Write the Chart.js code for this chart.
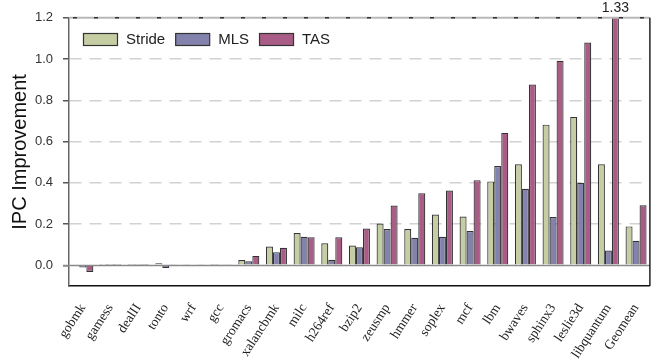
<!DOCTYPE html>
<html>
<head>
<meta charset="utf-8">
<script src="https://cdn.jsdelivr.net/npm/chart.js@4"></script>
<style>
  html, body { margin: 0; padding: 0; background: #fff; }
  #c { display: block; }
</style>
</head>
<body>
<canvas id="c" width="665" height="360"></canvas>
<script>
// Benchmarks along the x axis
const categories = ['gobmk', 'gamess', 'dealII', 'tonto', 'wrf', 'gcc', 'gromacs',
  'xalancbmk', 'milc', 'h264ref', 'bzip2', 'zeusmp', 'hmmer', 'soplex', 'mcf',
  'lbm', 'bwaves', 'sphinx3', 'leslie3d', 'libquantum', 'Geomean'];

// IPC improvement per prefetcher
const strideValues = [-0.003, 0.001, 0.002, 0.010, 0.005, 0.002, 0.026, 0.091, 0.157, 0.107,
  0.096, 0.203, 0.176, 0.246, 0.237, 0.407, 0.490, 0.682, 0.719, 0.490, 0.189];
const mlsValues = [-0.010, 0.001, 0.001, -0.013, 0.004, 0.003, 0.020, 0.064, 0.139, 0.027,
  0.088, 0.176, 0.134, 0.139, 0.166, 0.482, 0.371, 0.234, 0.400, 0.072, 0.119];
const tasValues = [-0.032, 0.001, 0.002, 0.006, 0.005, 0.005, 0.046, 0.085, 0.136, 0.136,
  0.179, 0.290, 0.349, 0.363, 0.413, 0.642, 0.877, 0.992, 1.080, 1.330, 0.291];

const yTickValues = [0.0, 0.2, 0.4, 0.6, 0.8, 1.0, 1.2];
const Y_MIN = -0.1, Y_MAX = 1.2;

const seriesNames = ['Stride', 'MLS', 'TAS'];
const seriesColors = ['#c5cda2', '#8282ad', '#a95d86'];
const barEdge = '#333333';

const SANS = '"Liberation Sans", Arial, sans-serif';
const SERIF = '"Liberation Serif", "Times New Roman", serif';

// Frame lines: zero line, top line with short dark dashes, right edge
const framePlugin = {
  id: 'frame',
  beforeDatasetsDraw(chart) {
    const { ctx, chartArea: a, scales: { y } } = chart;
    ctx.save();
    const y0 = Math.round(y.getPixelForValue(0)) + 0.5;
    ctx.strokeStyle = '#8a8a8a';
    ctx.lineWidth = 1.5;
    ctx.beginPath();
    ctx.moveTo(a.left - 6, y0);
    ctx.lineTo(a.right, y0);
    ctx.stroke();
    ctx.restore();
  },
  afterDraw(chart) {
    const { ctx, chartArea: a } = chart;
    ctx.save();
    ctx.strokeStyle = '#b8b8b8';
    ctx.lineWidth = 2;
    ctx.beginPath();
    ctx.moveTo(a.left, a.top);
    ctx.lineTo(a.right, a.top);
    ctx.stroke();
    ctx.strokeStyle = '#333';
    ctx.lineWidth = 1.5;
    ctx.setLineDash([4, 17]);
    ctx.beginPath();
    ctx.moveTo(a.left + 4, a.top);
    ctx.lineTo(a.right, a.top);
    ctx.stroke();
    ctx.setLineDash([]);
    ctx.strokeStyle = '#222';
    ctx.lineWidth = 1.5;
    ctx.beginPath();
    ctx.moveTo(a.right, a.top);
    ctx.lineTo(a.right, a.bottom);
    ctx.stroke();
    ctx.restore();
  }
};

// Legend drawn inside the plot area, top-left
const insideLegend = {
  id: 'insideLegend',
  afterDraw(chart) {
    const { ctx, chartArea: a } = chart;
    ctx.save();
    ctx.font = '15px ' + SANS;
    ctx.textBaseline = 'middle';
    ctx.textAlign = 'left';
    let x = a.left + 14;
    const yMid = 39;
    chart.data.datasets.forEach(ds => {
      ctx.fillStyle = ds.backgroundColor;
      ctx.fillRect(x, yMid - 6, 34, 12);
      ctx.strokeStyle = barEdge;
      ctx.lineWidth = 1.2;
      ctx.strokeRect(x + 0.5, yMid - 5.5, 34, 12);
      ctx.fillStyle = '#222';
      ctx.fillText(ds.label, x + 43, yMid + 1);
      x += 43 + ctx.measureText(ds.label).width + 10;
    });
    ctx.restore();
  }
};

// Value label for bars that run past the top of the axis
const overflowLabel = {
  id: 'overflowLabel',
  afterDraw(chart) {
    const { ctx, scales: { y } } = chart;
    ctx.save();
    ctx.font = '14px ' + SANS;
    ctx.fillStyle = '#222';
    ctx.textAlign = 'center';
    ctx.textBaseline = 'middle';
    chart.data.datasets.forEach((ds, di) => {
      const meta = chart.getDatasetMeta(di);
      ds.data.forEach((v, i) => {
        if (v > y.max) {
          const bar = meta.data[i];
          ctx.fillText(v.toFixed(2), bar.x, 8);
        }
      });
    });
    ctx.restore();
  }
};

const seriesData = [strideValues, mlsValues, tasValues];

new Chart(document.getElementById('c').getContext('2d'), {
  type: 'bar',
  data: {
    labels: categories,
    datasets: seriesNames.map((name, i) => ({
      label: name,
      data: seriesData[i],
      backgroundColor: seriesColors[i],
      borderColor: barEdge,
      borderWidth: 1.2,
      categoryPercentage: 0.76,
      barPercentage: 1.0
    }))
  },
  options: {
    responsive: false,
    animation: false,
    devicePixelRatio: 1,
    layout: { padding: { top: 16, right: 15, left: 0, bottom: 0 } },
    plugins: {
      legend: { display: false },
      tooltip: { enabled: false }
    },
    scales: {
      x: {
        grid: { display: false, drawTicks: false },
        border: { color: '#111', width: 1.5 },
        ticks: {
          font: { family: SERIF, size: 13.5 },
          color: '#222',
          maxRotation: 57,
          minRotation: 57,
          autoSkip: false,
          padding: 15
        },
        afterFit(s) { s.height = 74; }
      },
      y: {
        min: Y_MIN,
        max: Y_MAX,
        afterBuildTicks(s) { s.ticks = yTickValues.map(v => ({ value: v })); },
        ticks: {
          callback: v => Number(v).toFixed(1),
          font: { family: SANS, size: 13 },
          color: '#333',
          padding: 10
        },
        grid: {
          color: c => (c.tick && (c.tick.value === 0 || c.tick.value === 1.2)) ? 'rgba(0,0,0,0)' : '#d2d2d2',
          lineWidth: 1.5,
          tickColor: '#555',
          tickLength: 6,
          tickBorderDash: []
        },
        border: { color: '#666', width: 1.5, dash: [12, 8] },
        title: {
          display: true,
          text: 'IPC Improvement',
          font: { family: SANS, size: 20 },
          color: '#111',
          padding: { top: 8, bottom: 0 }
        },
        afterFit(s) { s.width = 69; }
      }
    }
  },
  plugins: [framePlugin, insideLegend, overflowLabel]
});
</script>
</body>
</html>
